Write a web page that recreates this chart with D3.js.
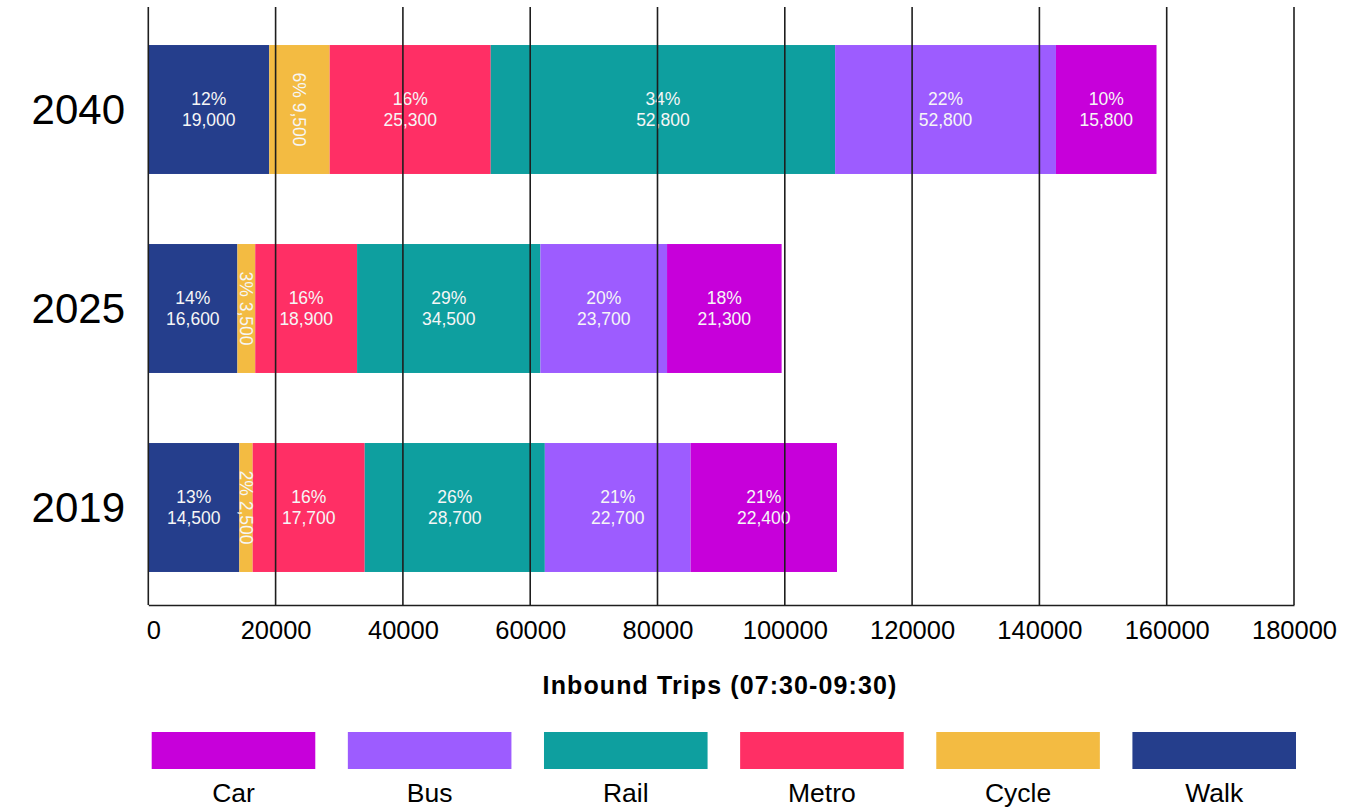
<!DOCTYPE html>
<html>
<head>
<meta charset="utf-8">
<script src="https://cdn.jsdelivr.net/npm/d3@7"></script>
<style>
  html, body { margin: 0; padding: 0; background: #ffffff; }
  svg { display: block; }
  text { font-family: "Liberation Sans", Arial, Helvetica, sans-serif; }
</style>
</head>
<body>
<svg id="chart" width="1349" height="807"></svg>
<script>
// ---- data ----
const years = ["2040", "2025", "2019"];
const modes = ["Walk", "Cycle", "Metro", "Rail", "Bus", "Car"];
const legendOrder = ["Car", "Bus", "Rail", "Metro", "Cycle", "Walk"];
const colors = ["#253e8c", "#f3bb42", "#ff2f65", "#0e9f9f", "#9d5cff", "#c700da"];

// bar lengths (trips) as drawn, per year (2040, 2025, 2019)
const walk  = [19000, 14000, 14300];
const cycle = [9500,  2800,  2100];
const metro = [25300, 16000, 17600];
const rail  = [54100, 28800, 28300];
const bus   = [34700, 19900, 22900];
const car   = [15800, 18000, 23000];

// printed labels (mode order Walk..Car)
const pct2040 = ["12%", "6%", "16%", "34%", "22%", "10%"];
const val2040 = ["19,000", "9,500", "25,300", "52,800", "52,800", "15,800"];
const pct2025 = ["14%", "3%", "16%", "29%", "20%", "18%"];
const val2025 = ["16,600", "3,500", "18,900", "34,500", "23,700", "21,300"];
const pct2019 = ["13%", "2%", "16%", "26%", "21%", "21%"];
const val2019 = ["14,500", "2,500", "17,700", "28,700", "22,700", "22,400"];

const xTicks = [0, 20000, 40000, 60000, 80000, 100000, 120000, 140000, 160000, 180000];
const xTitle = "Inbound Trips (07:30-09:30)";

// ---- build ----
const series = [walk, cycle, metro, rail, bus, car];
const pcts = [pct2040, pct2025, pct2019];
const vals = [val2040, val2025, val2019];

const rows = years.map((y, i) => {
  const r = { year: y };
  modes.forEach((m, j) => { r[m] = series[j][i]; });
  return r;
});
const stacked = d3.stack().keys(modes)(rows);

const svg = d3.select("#chart");
const x = d3.scaleLinear().domain([0, 180000]).range([148.3, 1294]);
const y = d3.scaleBand().domain(years).range([10, 607]).paddingInner(0.352).paddingOuter(0.176);
const color = d3.scaleOrdinal().domain(modes).range(colors);
const plotTop = 7, plotBottom = 605;

// bars
const layers = svg.append("g").selectAll("g").data(stacked).join("g")
  .attr("fill", d => color(d.key));
layers.selectAll("rect").data(d => d).join("rect")
  .attr("x", d => x(d[0]))
  .attr("y", d => y(d.data.year))
  .attr("width", d => x(d[1]) - x(d[0]))
  .attr("height", y.bandwidth());

// bar labels
const lab = svg.append("g").attr("fill", "#f6f6f6").attr("font-size", 17.5).attr("text-anchor", "middle");
stacked.forEach((layer, j) => {
  layer.forEach((d, i) => {
    const cx = (x(d[0]) + x(d[1])) / 2;
    const cy = y(d.data.year) + y.bandwidth() / 2;
    const p = pcts[i][j], v = vals[i][j];
    if (modes[j] === "Cycle") {
      lab.append("text")
        .attr("transform", `translate(${cx},${cy}) rotate(90)`)
        .attr("dy", "0.35em")
        .text(p + " " + v);
    } else {
      lab.append("text").attr("x", cx).attr("y", cy - 4.5).text(p);
      lab.append("text").attr("x", cx).attr("y", cy + 16.5).text(v);
    }
  });
});

// gridlines (drawn above bars)
svg.append("g").selectAll("line").data(xTicks).join("line")
  .attr("x1", d => x(d)).attr("x2", d => x(d))
  .attr("y1", plotTop).attr("y2", plotBottom)
  .attr("stroke", "#1e1e1e").attr("stroke-width", 1.6);

// x axis
const xAxis = svg.append("g").attr("transform", `translate(0,${plotBottom})`)
  .call(d3.axisBottom(x).tickValues(xTicks).tickFormat(d3.format("d")).tickSize(0).tickPadding(0));
xAxis.select(".domain").attr("stroke", "#1e1e1e").attr("stroke-width", 1.6);
xAxis.selectAll("text").attr("font-size", 25.5).attr("fill", "#000")
  .attr("font-family", "'Liberation Sans', Arial, sans-serif")
  .attr("dy", null).attr("y", 34)
  .attr("dx", d => d === 0 ? 5 : 0);

// y labels
const yAxis = svg.append("g").attr("transform", "translate(125,0)")
  .call(d3.axisLeft(y).tickSize(0).tickPadding(0));
yAxis.select(".domain").remove();
yAxis.selectAll("text").attr("font-size", 42).attr("fill", "#000")
  .attr("font-family", "'Liberation Sans', Arial, sans-serif")
  .attr("dy", "0.34em");

// x title
svg.append("text").attr("x", 720).attr("y", 694).attr("text-anchor", "middle")
  .attr("font-size", 25).attr("font-weight", "bold").attr("letter-spacing", 1.1)
  .attr("fill", "#000").text(xTitle);

// legend
const lx = d3.scaleBand().domain(legendOrder).range([151.7, 1296]).paddingInner(0.166).paddingOuter(0);
const lg = svg.append("g");
lg.selectAll("rect").data(legendOrder).join("rect")
  .attr("x", d => lx(d)).attr("y", 732)
  .attr("width", lx.bandwidth()).attr("height", 37)
  .attr("fill", d => color(d));
lg.selectAll("text").data(legendOrder).join("text")
  .attr("x", d => lx(d) + lx.bandwidth() / 2).attr("y", 802)
  .attr("text-anchor", "middle").attr("font-size", 26.5).attr("fill", "#000")
  .text(d => d);
</script>
</body>
</html>
